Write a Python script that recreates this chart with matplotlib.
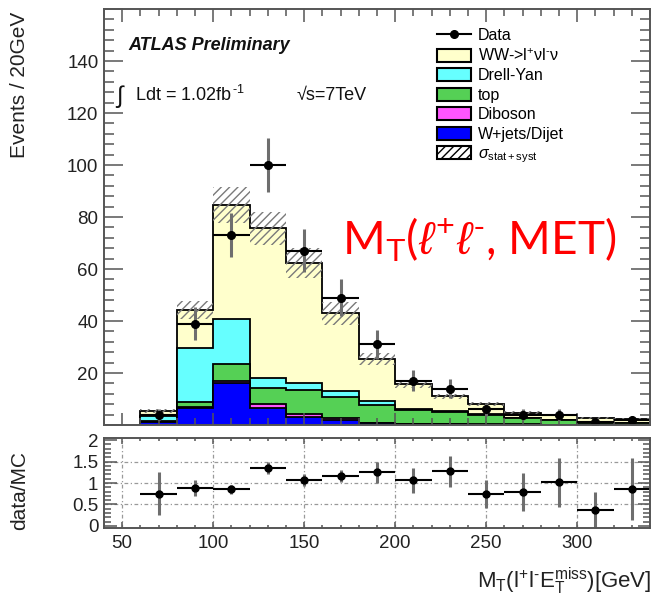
import matplotlib
matplotlib.use('Agg')
import matplotlib.pyplot as plt
import numpy as np
from matplotlib.patches import Patch
from matplotlib.lines import Line2D
from matplotlib.ticker import MultipleLocator, FuncFormatter

plt.rcParams['font.family'] = ['Liberation Sans', 'DejaVu Sans']
plt.rcParams['mathtext.fontset'] = 'custom'
plt.rcParams['mathtext.rm'] = 'Liberation Sans'
plt.rcParams['mathtext.it'] = 'Liberation Sans:italic'
plt.rcParams['mathtext.bf'] = 'Liberation Sans:bold'
plt.rcParams['mathtext.sf'] = 'Liberation Sans'
plt.rcParams['hatch.linewidth'] = 1.0

# ---------------- data ----------------
bin_edges = [60, 80, 100, 120, 140, 160, 180, 200, 220, 240, 260, 280, 300, 320, 340]
wjets   = [1.0, 6.5, 16.0, 6.4, 3.2, 2.0, 0.6, 0.3, 0.2, 0.1, 0.1, 0.05, 0.05, 0.05]
diboson = [0.1, 0.4, 1.0, 1.6, 1.0, 0.6, 0.3, 0.2, 0.1, 0.1, 0.1, 0.05, 0.05, 0.05]
top     = [0.4, 1.8, 6.3, 6.1, 9.1, 8.3, 6.8, 5.3, 4.8, 3.6, 2.4, 1.8, 0.6, 0.5]
drellyan= [1.8, 20.8, 17.5, 3.9, 2.9, 2.2, 1.5, 0.5, 0.3, 0.3, 0.2, 0.1, 0.1, 0.1]
ww      = [2.2, 14.7, 43.8, 57.6, 46.0, 29.9, 16.1, 9.6, 5.6, 4.0, 2.0, 1.9, 1.8, 1.6]
sigma   = [0.8, 3.5, 7.0, 6.5, 5.8, 4.5, 2.3, 1.5, 1.0, 0.8, 0.5, 0.4, 0.3, 0.3]
data     = [4, 39, 73, 100, 67, 49, 31, 17, 14, 6, 4, 4, 1, 2]
data_err = [2.0, 6.2, 8.5, 10.5, 8.2, 7.0, 5.6, 4.1, 3.7, 2.4, 2.0, 2.0, 1.0, 1.4]
ratio     = [0.75, 0.88, 0.85, 1.35, 1.06, 1.17, 1.25, 1.06, 1.27, 0.75, 0.79, 1.02, 0.37, 0.86]
ratio_err = [0.50, 0.18, 0.11, 0.15, 0.14, 0.14, 0.25, 0.30, 0.37, 0.33, 0.45, 0.57, 0.42, 0.72]

labels = ['Data', r'WW->l$^{+}$νl$^{\text{-}}$ν', 'Drell-Yan', 'top', 'Diboson', 'W+jets/Dijet',
          r'$\sigma_{\mathrm{stat+syst}}$']
col_ww, col_dy, col_top, col_dib, col_wj = '#ffffcc', '#66ffff', '#55d055', '#ff55ff', '#0000ff'

edges = np.array(bin_edges, dtype=float)
centers = 0.5 * (edges[1:] + edges[:-1])
halfw = 0.5 * np.diff(edges)

c1 = np.array(wjets)
c2 = c1 + np.array(diboson)
c3 = c2 + np.array(top)
c4 = c3 + np.array(drellyan)
c5 = c4 + np.array(ww)
sig = np.array(sigma)

W, H = 652, 597
fig = plt.figure(figsize=(W / 100, H / 100), dpi=100)
ax = fig.add_axes([104 / W, 1 - 425 / H, 546 / W, 416 / H])
axr = fig.add_axes([104 / W, 1 - 528 / H, 546 / W, 90 / H])

frame_col = '#555555'
txt_col = '#222222'

# ---------------- main panel ----------------
for cum, c in [(c5, col_ww), (c4, col_dy), (c3, col_top), (c2, col_dib), (c1, col_wj)]:
    ax.stairs(cum, edges, baseline=0, fill=True, facecolor=c, edgecolor='black', linewidth=1.3)
ax.stairs(c5 + sig, edges, baseline=c5 - sig, fill=True, facecolor='none',
          edgecolor='#7a7a7a', hatch='////', linewidth=0)

ax.errorbar(centers, data, yerr=data_err, fmt='none', ecolor='#6e6e6e', elinewidth=2.2, capsize=0)
ax.errorbar(centers, data, xerr=halfw, fmt='o', color='black', ms=5.5, elinewidth=1.5, capsize=0)

ax.set_xlim(40, 340)
ax.set_ylim(0, 160)
ax.xaxis.set_major_locator(MultipleLocator(50))
ax.xaxis.set_minor_locator(MultipleLocator(10))
ax.yaxis.set_major_locator(MultipleLocator(20))
ax.yaxis.set_minor_locator(MultipleLocator(4))
ax.yaxis.set_major_formatter(FuncFormatter(lambda v, p: '' if v <= 0 or v >= 160 else '%d' % v))
ax.tick_params(which='both', direction='in', top=True, right=True, labelbottom=False,
               colors=frame_col, labelcolor=txt_col, labelsize=13.5, width=1.1)
ax.tick_params(axis='y', which='major', length=14, pad=4)
ax.tick_params(axis='y', which='minor', length=7)
ax.tick_params(axis='x', which='major', length=9)
ax.tick_params(axis='x', which='minor', length=5)
for s in ax.spines.values():
    s.set_color(frame_col)
    s.set_linewidth(1.4)

ax.text(0.044, 0.913, 'ATLAS Preliminary', transform=ax.transAxes, fontsize=13,
        fontweight='bold', fontstyle='italic', va='center', ha='left', color='#111111')
ax.text(0.022, 0.790, '∫', transform=ax.transAxes, fontsize=17, va='center', ha='left',
        color='#111111')
ax.text(0.057, 0.793, r'Ldt = 1.02fb$^{\,\text{-}1}$', transform=ax.transAxes, fontsize=13,
        va='center', ha='left', color='#111111')
ax.text(0.353, 0.793, '√s=7TeV', transform=ax.transAxes, fontsize=13,
        va='center', ha='left', color='#111111')

handles = [Line2D([], [], color='black', marker='o', ms=5.5, lw=1.5),
           Patch(facecolor=col_ww, edgecolor='black', lw=1.5),
           Patch(facecolor=col_dy, edgecolor='black', lw=1.5),
           Patch(facecolor=col_top, edgecolor='black', lw=1.5),
           Patch(facecolor=col_dib, edgecolor='black', lw=1.5),
           Patch(facecolor=col_wj, edgecolor='black', lw=1.5),
           Patch(facecolor='white', edgecolor='black', hatch='////', lw=1.5)]
leg = ax.legend(handles, labels, loc='upper left', bbox_to_anchor=(0.61, 0.955),
                frameon=False, fontsize=11.5, handlelength=2.1, handleheight=0.85,
                handletextpad=0.45, labelspacing=0.28, borderpad=0, borderaxespad=0)

fig.text(342 / W, 1 - 255 / H, r'M$_{\mathrm{T}}$($\ell^{+}\ell^{\text{-}}$, MET)', color='#ff0000',
         fontsize=33, family='Lato', ha='left', va='baseline')

# ---------------- ratio panel ----------------
for gx in [50, 100, 150, 200, 250, 300]:
    axr.axvline(gx, color='#999999', lw=0.9, ls=(0, (3, 2, 1, 2)), zorder=0)
for gy in [0.5, 1.0, 1.5]:
    axr.axhline(gy, color='#999999', lw=0.9, ls=(0, (3, 2, 1, 2)), zorder=0)
axr.errorbar(centers, ratio, yerr=ratio_err, fmt='none', ecolor='#6e6e6e', elinewidth=2.2, capsize=0)
axr.errorbar(centers, ratio, xerr=halfw, fmt='o', color='black', ms=5, elinewidth=1.5, capsize=0)
axr.set_xlim(40, 340)
axr.set_ylim(-0.05, 2.05)
axr.xaxis.set_major_locator(MultipleLocator(50))
axr.xaxis.set_minor_locator(MultipleLocator(10))
axr.yaxis.set_major_locator(MultipleLocator(0.5))
axr.yaxis.set_minor_locator(MultipleLocator(0.1))
axr.yaxis.set_major_formatter(FuncFormatter(lambda v, p: ('%g' % v) if -0.01 < v < 2.01 else ''))
axr.tick_params(which='both', direction='in', top=True, right=True,
                colors=frame_col, labelcolor=txt_col, labelsize=13.5, width=1.1)
axr.tick_params(axis='y', which='major', length=9, pad=4)
axr.tick_params(axis='y', which='minor', length=5)
axr.tick_params(axis='x', which='major', length=4, pad=5)
axr.tick_params(axis='x', which='minor', length=2)
for s in axr.spines.values():
    s.set_color(frame_col)
    s.set_linewidth(1.4)

# ---------------- axis titles ----------------
fig.text(20 / W, 1 - 12 / H, 'Events / 20GeV', rotation=90, ha='center', va='top',
         fontsize=15, color=txt_col)
fig.text(20 / W, 1 - 490 / H, 'data/MC', rotation=90, ha='center', va='center',
         fontsize=15, color=txt_col)
fig.text(651 / W, 1 - 588 / H,
         r'M$_{\mathrm{T}}$(l$^{+}$l$^{\text{-}}$E$_{\mathrm{T}}^{\mathrm{miss}}$)[GeV]',
         ha='right', va='baseline', fontsize=16, color=txt_col)

fig.savefig('out.png', dpi=100)
